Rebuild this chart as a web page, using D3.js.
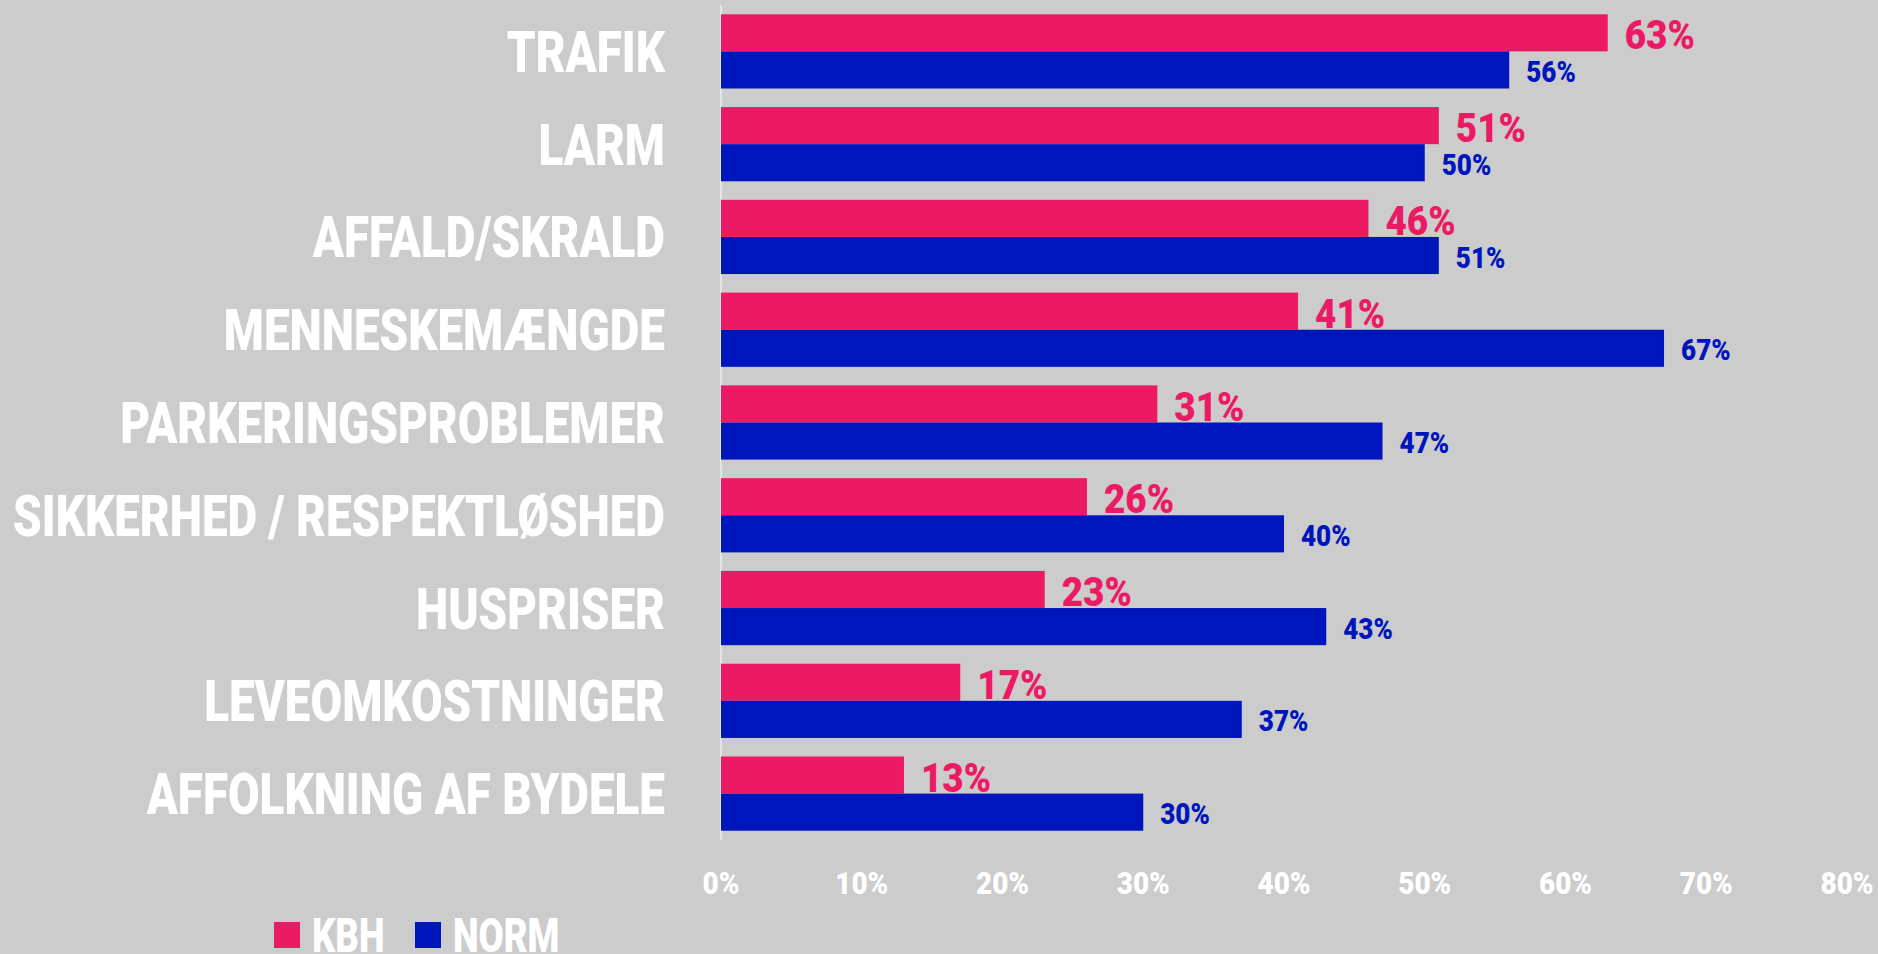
<!DOCTYPE html>
<html>
<head>
<meta charset="utf-8">
<script src="https://cdn.jsdelivr.net/npm/d3@7"></script>
<style>
  html, body { margin: 0; padding: 0; background: #cccccc; overflow: hidden; }
  text { font-family: Roboto, "Liberation Sans", sans-serif; font-weight: 900; }
</style>
</head>
<body>
<svg id="chart" width="1878" height="954"></svg>
<script>
// data
var categories = ["TRAFIK", "LARM", "AFFALD/SKRALD", "MENNESKEMÆNGDE", "PARKERINGSPROBLEMER",
                  "SIKKERHED / RESPEKTLØSHED", "HUSPRISER", "LEVEOMKOSTNINGER", "AFFOLKNING AF BYDELE"];
var series = ["KBH", "NORM"];
var kbh = [63, 51, 46, 41, 31, 26, 23, 17, 13];
var norm = [56, 50, 51, 67, 47, 40, 43, 37, 30];
var tickValues = [0, 10, 20, 30, 40, 50, 60, 70, 80];

var colors = { KBH: "#ec1a64", NORM: "#0016bd" };
var squeeze = 0.79;   // the original uses a condensed face
var numSqueeze = 0.9;

var svg = d3.select("#chart");

var x = d3.scaleLinear()
    .domain([0, 80])
    .range([721, 1847]);

var y = d3.scaleBand()
    .domain(categories)
    .range([5, 840])
    .paddingInner(0.2)
    .paddingOuter(0.1);

var ySub = d3.scaleBand()
    .domain(series)
    .range([0, y.bandwidth()]);

var rows = categories.map(function(c, i){
    return { cat: c, KBH: kbh[i], NORM: norm[i] };
});

// axis line
svg.append("line")
    .attr("x1", x(0)).attr("x2", x(0))
    .attr("y1", y.range()[0]).attr("y2", y.range()[1])
    .style("stroke", "#e4e4e4")
    .style("stroke-width", "2px");

var g = svg.selectAll("g.row")
    .data(rows)
    .enter().append("g")
    .attr("class", "row")
    .attr("transform", function(d){ return "translate(0," + y(d.cat) + ")"; });

series.forEach(function(s){
    g.append("rect")
        .attr("x", x(0))
        .attr("y", ySub(s))
        .attr("width", function(d){ return x(d[s]) - x(0); })
        .attr("height", ySub.bandwidth())
        .style("fill", colors[s]);
});

// value labels
g.append("g")
    .attr("transform", function(d){ return "translate(" + (x(d.KBH) + 17) + "," + (ySub("KBH") + ySub.bandwidth() - 2) + ") scale(" + numSqueeze + ",1)"; })
    .append("text")
    .text(function(d){ return d.KBH + "%"; })
    .style("font-size", "41px")
    .style("fill", colors.KBH);

g.append("g")
    .attr("transform", function(d){ return "translate(" + (x(d.NORM) + 17) + "," + (ySub("NORM") + ySub.bandwidth() / 2 + 12) + ") scale(" + numSqueeze + ",1)"; })
    .append("text")
    .text(function(d){ return d.NORM + "%"; })
    .style("font-size", "29px")
    .style("fill", colors.NORM);

// category labels
g.append("g")
    .attr("transform", function(){ return "translate(665," + (y.bandwidth() / 2 + 20.5) + ") scale(" + squeeze + ",1)"; })
    .append("text")
    .attr("text-anchor", "end")
    .text(function(d){ return d.cat; })
    .style("font-size", "58px")
    .style("fill", "#ffffff");

// x tick labels
svg.selectAll("g.tick")
    .data(tickValues)
    .enter().append("g")
    .attr("class", "tick")
    .attr("transform", function(d){ return "translate(" + x(d) + ",894) scale(" + numSqueeze + ",1)"; })
    .append("text")
    .attr("text-anchor", "middle")
    .text(function(d){ return d + "%"; })
    .style("font-size", "31px")
    .style("fill", "#ffffff");

// legend
var legX = [274, 415];
var leg = svg.selectAll("g.leg")
    .data(series)
    .enter().append("g")
    .attr("class", "leg")
    .attr("transform", function(d, i){ return "translate(" + legX[i] + ",922)"; });

leg.append("rect")
    .attr("width", 26).attr("height", 26)
    .style("fill", function(d){ return colors[d]; });

leg.append("g")
    .attr("transform", "translate(38,30) scale(0.76,1)")
    .append("text")
    .text(function(d){ return d; })
    .style("font-size", "48px")
    .style("fill", "#ffffff");
</script>
</body>
</html>
